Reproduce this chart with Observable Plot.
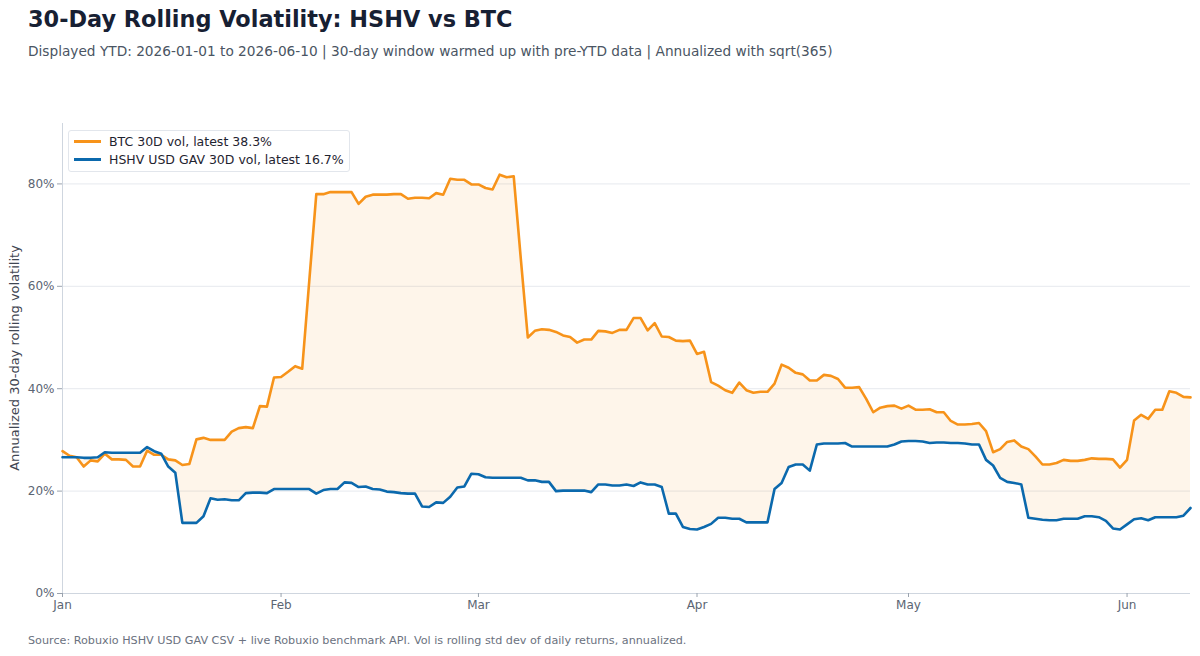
<!DOCTYPE html>
<html>
<head>
<meta charset="utf-8">
<script src="https://cdn.jsdelivr.net/npm/d3@7"></script>
<script src="https://cdn.jsdelivr.net/npm/@observablehq/plot@0.6"></script>
<style>
  html, body { margin: 0; padding: 0; background: #fff; }
  body { width: 1200px; height: 656px; position: relative; overflow: hidden; font-family: "DejaVu Sans", sans-serif; }
  .abs { position: absolute; white-space: nowrap; line-height: 1; }
  #title { left: 28px; top: 8px; font-size: 22.4px; font-weight: bold; color: #172033; }
  #subtitle { left: 28px; top: 45px; font-size: 13.7px; color: #4a5563; }
  #footer { left: 28px; top: 635px; font-size: 11.2px; color: #6b7280; }
  #ylabel { left: 14px; top: 358px; font-size: 13px; color: #3f4652; transform: translate(-50%, -50%) rotate(-90deg); }
  #chart { position: absolute; left: 0; top: 100px; }
  #legend { position: absolute; left: 68px; top: 130px; width: 280px; height: 40px; border: 1px solid #e2e6ec; border-radius: 3px; background: rgba(255,255,255,0.9); font-size: 12.5px; color: #1f2430; }
  .item { position: absolute; left: 5px; display: flex; align-items: center; }
  .sw { width: 27px; height: 0; border-top: 3px solid; margin-right: 8px; }
</style>
</head>
<body>
<div id="title" class="abs">30-Day Rolling Volatility: HSHV vs BTC</div>
<div id="subtitle" class="abs">Displayed YTD: 2026-01-01 to 2026-06-10 | 30-day window warmed up with pre-YTD data | Annualized with sqrt(365)</div>
<div id="chart"></div>
<div id="ylabel" class="abs">Annualized 30-day rolling volatility</div>
<div id="legend"></div>
<div id="footer" class="abs">Source: Robuxio HSHV USD GAV CSV + live Robuxio benchmark API. Vol is rolling std dev of daily returns, annualized.</div>
<script>
// ---- data (annualized 30-day rolling volatility, %, one value per day from 2026-01-01) ----
const startDate = "2026-01-01";
const endDate = "2026-06-10";
const seriesNames = ["BTC 30D vol, latest 38.3%", "HSHV USD GAV 30D vol, latest 16.7%"];
const btcVol = [
  27.8, 26.9, 26.6, 24.8, 26.0, 25.8, 27.3, 26.2, 26.2, 26.1, 24.8, 24.8, 27.9, 27.1, 27.1, 26.2,
  26.0, 25.1, 25.3, 30.1, 30.4, 30.0, 30.0, 30.0, 31.6, 32.3, 32.5, 32.3, 36.6, 36.5, 42.2,
  42.3, 43.3, 44.4, 43.9, 61.0, 78.0, 78.0, 78.4, 78.4, 78.4, 78.4, 76.1, 77.5, 77.9, 77.9,
  77.9, 78.0, 78.0, 77.1, 77.3, 77.3, 77.2, 78.2, 77.9, 81.0, 80.8, 80.8, 79.9,
  79.9, 79.2, 78.9, 81.8, 81.3, 81.5, 65.5, 50.0, 51.3, 51.6, 51.5, 51.1, 50.4, 50.1, 49.0, 49.6,
  49.6, 51.3, 51.2, 50.9, 51.5, 51.5, 53.8, 53.8, 51.4, 52.8, 50.2, 50.1, 49.4, 49.3, 49.4, 46.8,
  47.2, 41.3, 40.6, 39.7, 39.2, 41.2, 39.7, 39.2, 39.4, 39.4, 41.0, 44.7, 44.1, 43.1, 42.8,
  41.6, 41.6, 42.7, 42.5, 41.9, 40.2, 40.2, 40.3, 38.0, 35.4, 36.3, 36.6, 36.7, 36.1, 36.7,
  35.9, 35.9, 36.0, 35.4, 35.4, 33.7, 33.0, 33.0, 33.1, 33.3, 31.7, 27.6, 28.2, 29.6, 29.9, 28.7,
  28.2, 26.8, 25.2, 25.2, 25.5, 26.1, 25.9, 25.9, 26.1, 26.4, 26.3, 26.3, 26.2, 24.6, 26.1,
  33.8, 34.9, 34.1, 35.9, 35.9, 39.5, 39.2, 38.4, 38.3
];
const hshvVol = [
  26.6, 26.6, 26.6, 26.5, 26.5, 26.6, 27.6, 27.5, 27.5, 27.5, 27.5, 27.5, 28.6, 27.8, 27.3, 24.8,
  23.6, 13.8, 13.8, 13.8, 15.1, 18.6, 18.3, 18.4, 18.2, 18.2, 19.6, 19.7, 19.7, 19.6, 20.4,
  20.4, 20.4, 20.4, 20.4, 20.4, 19.5, 20.2, 20.4, 20.4, 21.7, 21.6, 20.8, 20.9, 20.4, 20.3,
  19.9, 19.8, 19.6, 19.5, 19.5, 17.0, 16.9, 17.8, 17.7, 18.9, 20.7, 20.9, 23.4,
  23.3, 22.7, 22.6, 22.6, 22.6, 22.6, 22.6, 22.1, 22.1, 21.8, 21.8, 20.0, 20.1, 20.1, 20.1, 20.1,
  19.8, 21.3, 21.3, 21.1, 21.1, 21.3, 21.0, 21.7, 21.3, 21.3, 20.8, 15.6, 15.6, 13.0, 12.6, 12.5,
  13.0, 13.6, 14.8, 14.8, 14.6, 14.6, 13.9, 13.9, 13.9, 13.9, 20.4, 21.6, 24.7, 25.2, 25.2,
  24.0, 29.1, 29.3, 29.3, 29.3, 29.4, 28.7, 28.7, 28.7, 28.7, 28.7, 28.7, 29.1, 29.7, 29.8,
  29.8, 29.7, 29.4, 29.5, 29.5, 29.4, 29.4, 29.3, 29.1, 29.1, 26.1, 25.0, 22.6, 21.8, 21.6, 21.3,
  14.8, 14.6, 14.4, 14.3, 14.3, 14.6, 14.6, 14.6, 15.1, 15.1, 14.9, 14.2, 12.7, 12.5, 13.5,
  14.5, 14.7, 14.3, 14.9, 14.9, 14.9, 14.9, 15.2, 16.7
];
const yTicks = [0, 20, 40, 60, 80];
const monthTicks = ["2026-01-01", "2026-02-01", "2026-03-01", "2026-04-01", "2026-05-01", "2026-06-01"];

// ---- build table ----
const t0 = new Date(startDate + "T00:00:00Z");
const rows = btcVol.map((b, i) => ({ date: d3.utcDay.offset(t0, i), btc: b, hshv: hshvVol[i] }));
const colors = { btc: "#f7931a", hshv: "#0b69ad" };

const chart = Plot.plot({
  width: 1200,
  height: 530,
  marginLeft: 62,
  marginRight: 10,
  marginTop: 23,
  marginBottom: 37,
  style: { fontFamily: "DejaVu Sans", fontSize: "12px", background: "transparent", overflow: "visible" },
  x: { type: "utc", domain: [t0, new Date(endDate + "T00:00:00Z")] },
  y: { domain: [0, 91.8] },
  marks: [
    Plot.gridY(yTicks, { stroke: "#e6e9ee", strokeOpacity: 1 }),
    Plot.areaY(rows, { x: "date", y1: "hshv", y2: "btc", fill: colors.btc, fillOpacity: 0.09 }),
    Plot.ruleX([t0], { stroke: "#cfd6df" }),
    Plot.ruleY([0], { stroke: "#cfd6df" }),
    Plot.lineY(rows, { x: "date", y: "btc", stroke: colors.btc, strokeWidth: 2.6 }),
    Plot.lineY(rows, { x: "date", y: "hshv", stroke: colors.hshv, strokeWidth: 2.6 }),
    Plot.axisY({ ticks: yTicks, tickFormat: d => d + "%", tickSize: 5, tickPadding: 3, label: null, stroke: "#9aa3ae", fill: "#5b6573" }),
    Plot.axisX({ ticks: monthTicks.map(s => new Date(s + "T00:00:00Z")), tickFormat: d3.utcFormat("%b"), tickSize: 4, tickPadding: 3, label: null, stroke: "#9aa3ae", fill: "#5b6573" })
  ]
});
document.getElementById("chart").appendChild(chart);

// ---- legend ----
const legend = document.getElementById("legend");
[["btc", 0], ["hshv", 1]].forEach(([k, i]) => {
  const it = document.createElement("div");
  it.className = "item";
  it.style.top = (i === 0 ? 3 : 21) + "px";
  it.innerHTML = `<span class="sw" style="border-color:${colors[k]}"></span><span>${seriesNames[i]}</span>`;
  legend.appendChild(it);
});
</script>
</body>
</html>
